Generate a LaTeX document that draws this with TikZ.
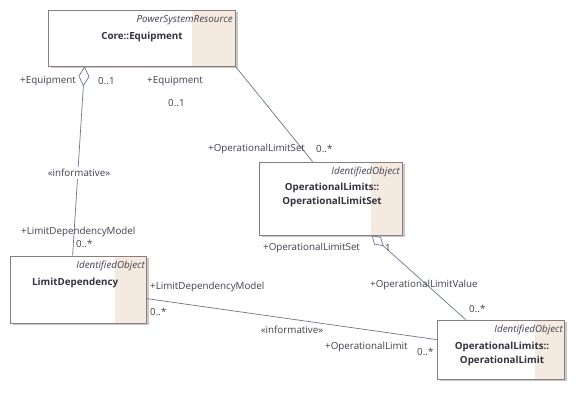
\documentclass[tikz,border=0pt]{standalone}
\usepackage{fontspec}
\setmainfont{Open Sans}
\usetikzlibrary{arrows.meta,shadows,calc}
\definecolor{linecol}{HTML}{6E7592}
\definecolor{bordercol}{HTML}{8E7C7C}
\definecolor{stripcol}{HTML}{F5EADF}
\definecolor{textcol}{HTML}{40404E}
\definecolor{boldcol}{HTML}{33333F}
\begin{document}
\begin{tikzpicture}[x=1pt,y=-1pt,
  umlbox/.style={draw=bordercol, line width=0.8pt, fill=white, inner sep=0pt,
    drop shadow={shadow xshift=2.5pt, shadow yshift=-2.5pt, fill=black!35, opacity=0.6},
    path picture={\fill[stripcol] ([xshift=-#1]path picture bounding box.north east) rectangle (path picture bounding box.south east);}},
  lbl/.style={inner sep=0pt, text=textcol, font=\fontsize{9.8}{12}\selectfont},
  stereo/.style={inner sep=0pt, text=textcol, font=\fontsize{9.8}{12}\selectfont\itshape},
  cname/.style={inner sep=0pt, text=boldcol, align=center, font=\fontsize{9.8}{14}\selectfont\bfseries},
  inf/.style={fill=white, inner sep=2pt, text=textcol, font=\fontsize{9.8}{12}\selectfont},
  conn/.style={draw=linecol, line width=0.7pt},
  agg/.style={conn, {Diamond[open, length=20pt, width=11pt]}-},
  aggsmall/.style={conn, {Diamond[open, length=16pt, width=10pt]}-}
]
\useasboundingbox (0,0) rectangle (576,411);
\fill[white] (0,0) rectangle (576,411);

% boxes
\node[umlbox=43pt, minimum width=187pt, minimum height=56pt] (equip) at (141.5,38) {};
\node[umlbox=31pt, minimum width=136pt, minimum height=67pt] (limdep) at (78,289.5) {};
\node[umlbox=31pt, minimum width=143pt, minimum height=73pt] (olset) at (330.5,198.5) {};
\node[umlbox=29pt, minimum width=127pt, minimum height=59pt] (ol) at (500.5,349.5) {};

% connector end points
\coordinate (e1) at ($(equip.south west)+(37,0)$);
\coordinate (l1) at ($(limdep.north west)+(63,0)$);
\coordinate (s1) at ($(olset.north west)+(54,0)$);
\coordinate (s2) at ($(olset.south west)+(113,0)$);
\coordinate (o1) at ($(ol.north west)+(29,0)$);
\coordinate (l2) at ($(limdep.north east)+(0,43)$);
\coordinate (o2) at ($(ol.north west)+(0,20)$);

% connectors
\draw[agg] (e1) -- (l1);
\draw[conn] (equip.south east) -- (s1);
\draw[aggsmall] (s2) -- (o1);
\draw[conn] (l2) -- (o2);

% informative labels (on top of lines)
\node[inf] (inf1) at (79,173) {«informative»};
\node[inf] (inf2) at (292,330) {«informative»};

% box texts
\node[stereo, anchor=east] (eqst) at (233,20) {PowerSystemResource};
\node[cname] (eqname) at (142,37) {Core::Equipment};
\node[stereo, anchor=east] (ldst) at (145,266) {IdentifiedObject};
\node[cname, anchor=west] (ldname) at (32,283) {LimitDependency};
\node[stereo, anchor=east] (olsst) at (400,172) {IdentifiedObject};
\node[cname] (olsname) at (332,195) {OperationalLimits::\\OperationalLimitSet};
\node[stereo, anchor=east] (olst) at (563,330) {IdentifiedObject};
\node[cname] (olname) at (502,353.5) {OperationalLimits::\\OperationalLimit};

% role labels and multiplicities
\node[lbl, anchor=west] (lEq1) at (20,81) {+Equipment};
\node[lbl, anchor=west] (mEq1) at (98,81) {0..1};
\node[lbl, anchor=west] (lEq2) at (147,81) {+Equipment};
\node[lbl, anchor=west] (mEq2) at (168,103) {0..1};
\node[lbl, anchor=west] (lLDM1) at (21,232) {+LimitDependencyModel};
\node[lbl, anchor=west] (mLDM1) at (76,244) {0..*};
\node[lbl, anchor=west] (lLDM2) at (150,287) {+LimitDependencyModel};
\node[lbl, anchor=west] (mLDM2) at (150,312) {0..*};
\node[lbl, anchor=west] (lOL) at (325,347) {+OperationalLimit};
\node[lbl, anchor=west] (mOL) at (417,352) {0..*};
\node[lbl, anchor=west] (lOLS1) at (208,149) {+OperationalLimitSet};
\node[lbl, anchor=west] (mOLS1) at (316,149) {0..*};
\node[lbl, anchor=west] (lOLS2) at (263,248) {+OperationalLimitSet};
\node[lbl, anchor=west] (mOLS2) at (385,248) {1};
\node[lbl, anchor=west] (lOLV) at (370,285) {+OperationalLimitValue};
\node[lbl, anchor=west] (mOLV) at (469,309) {0..*};
\end{tikzpicture}
\end{document}
